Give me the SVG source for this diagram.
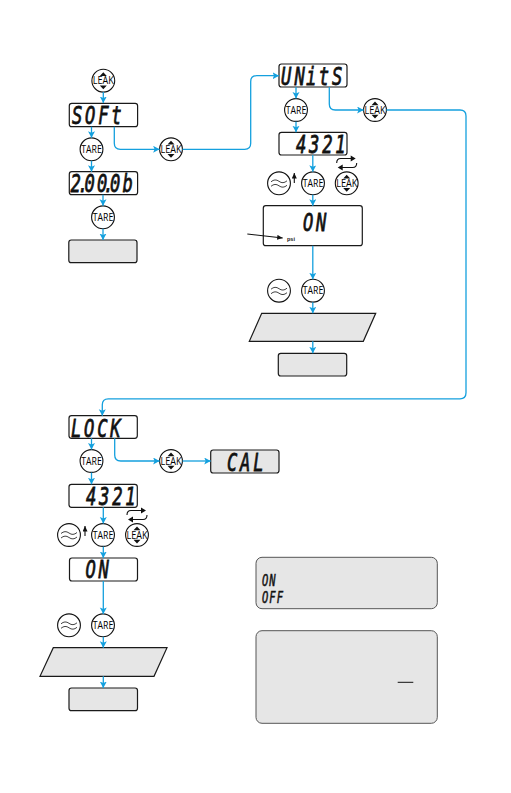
<svg xmlns="http://www.w3.org/2000/svg" width="511" height="793" viewBox="0 0 511 793">
<style>
.d{fill:#fff;stroke:#1a1a1a;stroke-width:1.2}
.g{fill:#e6e6e6;stroke:#1a1a1a;stroke-width:1.2}
.p{fill:#e6e6e6;stroke:#555;stroke-width:1}
.c{fill:none;stroke:#14a0de;stroke-width:1.3}
.b{fill:#fff;stroke:#111;stroke-width:1.1}
.k{fill:none;stroke:#111;stroke-width:.8}
.bk{fill:none;stroke:#111;stroke-width:1.1}
.l{font:10px "Open Sans","Liberation Sans",sans-serif;fill:#000;text-anchor:middle}
.s{font:oblique 400 24.500px "DejaVu Sans Mono",monospace;fill:#111;stroke:#111;stroke-width:.8;letter-spacing:4px}
.s2{font:oblique 400 15px "DejaVu Sans Mono",monospace;fill:#111;stroke:#111;stroke-width:.5;letter-spacing:1.500px}
</style>
<defs>
<marker id="a" markerWidth="8" markerHeight="8" refX="6.500" refY="3.500" orient="auto" markerUnits="userSpaceOnUse"><path d="M0 0L6.500 3.500L0 7L1.500 3.500Z" fill="#14a0de"/></marker>
<marker id="ak" markerWidth="7" markerHeight="6" refX="5.500" refY="2.500" orient="auto" markerUnits="userSpaceOnUse"><path d="M0 0L5.500 2.500L0 5Z" fill="#111"/></marker>
<g id="leak"><circle r="11.400" class="b"/><path d="M-3.500-4.800L0-8.500L3.500-4.800ZM-3.500 4.800L0 8.500L3.500 4.800Z" fill="#111"/><text y="3.500" class="l" textLength="21" lengthAdjust="spacingAndGlyphs">LEAK</text></g>
<g id="tare"><circle r="11.400" class="b"/><text y="3.500" class="l" textLength="20.500" lengthAdjust="spacingAndGlyphs">TARE</text></g>
<g id="wave"><circle r="11.400" class="b"/><path d="M-8-1.500Q-4-5 0-2T8-2.500M-8 3Q-4-.5 0 2.500T8 2" class="k"/></g>
<g id="loop"><path d="M-10 0Q-10-4.500-6-4.500H6M10 0Q10 4.500 6 4.500H-6" class="bk"/><path d="M4-7.500L9-4.500L4-1.500ZM-4 7.500L-9 4.500L-4 1.500Z" fill="#111"/></g>
</defs>

<g id="n-leak0"><use href="#leak" x="103.300" y="80.700"/></g>
<g id="n-soft"><rect class="d" x="69.300" y="103.300" width="68.300" height="23.400" rx="2.500"/><text class="s" transform="translate(72 124) scale(.7 1)">SOFt</text></g>
<g id="n-tare1"><use href="#tare" x="91.500" y="149.300"/></g>
<g id="n-leak1"><use href="#leak" x="171" y="149.300"/></g>
<g id="n-ver"><rect class="d" x="69.300" y="171.700" width="68.300" height="23" rx="2.500"/><text class="s" transform="translate(70.500 192.300) scale(.7 1)" x="0 10.700 20 37.900 47.100 56.400 74.300">2.00.0b</text></g>
<g id="n-tare2"><use href="#tare" x="103" y="217.300"/></g>
<g id="n-end1"><rect class="g" x="68.800" y="240" width="68.200" height="22.700" rx="2.500"/></g>

<g id="n-units"><rect class="d" x="279" y="64" width="68" height="23" rx="2.500"/><text class="s" transform="translate(281 84.500) scale(.7 1)" x="0 19.300 35.700 54 73">UNitS</text></g>
<g id="n-tare3"><use href="#tare" x="296" y="110"/></g>
<g id="n-leak2"><use href="#leak" x="375" y="110"/></g>
<g id="n-4321a"><rect class="d" x="279" y="132.300" width="68" height="22.700" rx="2.500"/><text class="s" transform="translate(296 152.500) scale(.7 1)">4321</text></g>
<g id="n-wave1"><use href="#wave" x="279" y="183.300"/></g>
<g id="n-tare4"><use href="#tare" x="313" y="183.300"/></g>
<g id="n-leak3"><use href="#leak" x="346.700" y="183.300"/><use href="#loop" x="346.700" y="163"/></g>
<g id="n-on1"><rect class="d" x="263.300" y="205.700" width="99" height="40" rx="2.500"/><text class="s" transform="translate(303 231) scale(.7 1)">ON</text><text x="287" y="240.500" font-family="Liberation Sans,sans-serif" font-size="5.500" font-weight="700" fill="#111">psi</text></g>
<g id="n-wave2"><use href="#wave" x="279" y="290.700"/></g>
<g id="n-tare5"><use href="#tare" x="313" y="290.700"/></g>
<g id="n-para1"><path class="g" d="M261.700 313.300H375.700L363.300 341.300H249.300Z"/></g>
<g id="n-end2"><rect class="g" x="278.300" y="353.300" width="68.400" height="22.700" rx="2.500"/></g>

<g id="n-lock"><rect class="d" x="69" y="415.700" width="68.300" height="22.600" rx="2.500"/><text class="s" transform="translate(71 436.500) scale(.7 1)">LOCK</text></g>
<g id="n-tare6"><use href="#tare" x="91.500" y="461"/></g>
<g id="n-leak4"><use href="#leak" x="171" y="461"/></g>
<g id="n-cal"><rect class="g" x="210.700" y="450" width="68.300" height="23" rx="2.500"/><text class="s" transform="translate(227 471) scale(.7 1)">CAL</text></g>
<g id="n-4321b"><rect class="d" x="69" y="484.300" width="68.300" height="23" rx="2.500"/><text class="s" transform="translate(86 504.500) scale(.7 1)">4321</text></g>
<g id="n-wave3"><use href="#wave" x="69" y="535"/></g>
<g id="n-tare7"><use href="#tare" x="103" y="535"/></g>
<g id="n-leak5"><use href="#leak" x="137" y="535"/><use href="#loop" x="137" y="515"/></g>
<g id="n-on2"><rect class="d" x="69.500" y="558" width="68" height="23" rx="2.500"/><text class="s" transform="translate(85.500 578.300) scale(.7 1)">ON</text></g>
<g id="n-wave4"><use href="#wave" x="69" y="625.300"/></g>
<g id="n-tare8"><use href="#tare" x="103" y="625.300"/></g>
<g id="n-para2"><path class="g" d="M53.300 647.700H167L154 676.300H40Z"/></g>
<g id="n-end3"><rect class="g" x="69" y="688" width="68.500" height="22.700" rx="2.500"/></g>

<g id="n-panel1"><rect class="p" x="256" y="557.300" width="181.300" height="51.400" rx="6"/><text class="s2" transform="translate(262 586) scale(.7 1)">ON</text><text class="s2" transform="translate(262 602.700) scale(.7 1)">OFF</text></g>
<g id="n-panel2"><rect class="p" x="256" y="630.700" width="181.300" height="92.600" rx="6"/><path d="M397.700 682.300H413.300" stroke="#111" stroke-width="1"/></g>

<g id="connectors">
<path class="c" marker-end="url(#a)" d="M103.300 92V103"/>
<path class="c" marker-end="url(#a)" d="M91.500 126.700V137.800"/>
<path class="c" marker-end="url(#a)" d="M91.500 160.800V171.700"/>
<path class="c" marker-end="url(#a)" d="M103 194.700V205.800"/>
<path class="c" marker-end="url(#a)" d="M103 228.800V240"/>
<path class="c" marker-end="url(#a)" d="M114.300 126.700V143.300Q114.300 149.300 120.300 149.300H159.600"/>
<path class="c" marker-end="url(#a)" d="M182.500 149.300H244.700Q250.700 149.300 250.700 143.300V81.700Q250.700 75.700 256.700 75.700H279"/>
<path class="c" marker-end="url(#a)" d="M296 87V98.500"/>
<path class="c" marker-end="url(#a)" d="M296 121.500V132.300"/>
<path class="c" marker-end="url(#a)" d="M312.800 155V171.800"/>
<path class="c" marker-end="url(#a)" d="M312.800 194.800V205.700"/>
<path class="c" marker-end="url(#a)" d="M312.800 245.700V279.300"/>
<path class="c" marker-end="url(#a)" d="M312.800 302.200V313.300"/>
<path class="c" marker-end="url(#a)" d="M312.800 341.300V353.300"/>
<path class="c" marker-end="url(#a)" d="M329.300 87V104Q329.300 110 335.300 110H363.600"/>
<path class="c" marker-end="url(#a)" d="M386.400 110H460Q466 110 466 116V392.800Q466 398.800 460 398.800H108.300Q102.300 398.800 102.300 404.800V415.700"/>
<path class="c" marker-end="url(#a)" d="M91.500 438.300V449.500"/>
<path class="c" marker-end="url(#a)" d="M91.500 472.500V484.300"/>
<path class="c" marker-end="url(#a)" d="M114.700 438.300V455Q114.700 461 120.700 461H159.600"/>
<path class="c" marker-end="url(#a)" d="M182.500 461H210.700"/>
<path class="c" marker-end="url(#a)" d="M103.300 507.300V523.600"/>
<path class="c" marker-end="url(#a)" d="M103.300 546.500V558"/>
<path class="c" marker-end="url(#a)" d="M103.300 581V613.900"/>
<path class="c" marker-end="url(#a)" d="M103.300 636.800V647.700"/>
<path class="c" marker-end="url(#a)" d="M103.300 676.300V688"/>
<path class="bk" marker-end="url(#ak)" d="M247.300 234L282.700 238"/>
<path class="bk" marker-end="url(#ak)" d="M294.300 183V173"/>
<path class="bk" marker-end="url(#ak)" d="M85 536V526"/>
</g>
</svg>
